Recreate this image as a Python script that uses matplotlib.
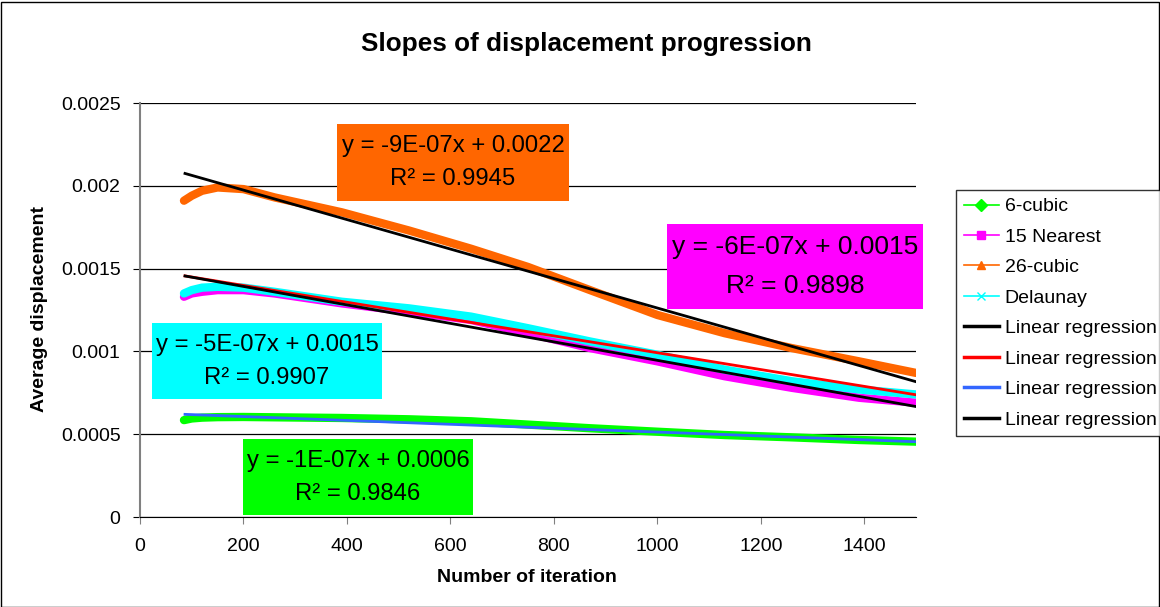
import matplotlib
matplotlib.use("Agg")
import matplotlib.pyplot as plt
from matplotlib.lines import Line2D
from matplotlib.patches import Rectangle
import numpy as np

plt.rcParams['font.family'] = ['Liberation Sans', 'DejaVu Sans']

# values
iterations = [85, 100, 120, 150, 200, 260, 390, 520, 640, 750, 870, 1000, 1130, 1260, 1390, 1500]
cubic6 = [0.000585, 0.000595, 0.0006, 0.000603, 0.000604, 0.000602, 0.000598, 0.00059,
          0.000578, 0.000558, 0.000536, 0.000515, 0.000495, 0.000481, 0.000465, 0.000455]
nearest15 = [0.00133, 0.00135, 0.00136, 0.00137, 0.00137, 0.00135, 0.00129, 0.00124,
             0.00119, 0.00111, 0.00102, 0.00094, 0.00085, 0.00078, 0.00072, 0.00069]
cubic26 = [0.00191, 0.00194, 0.00197, 0.00199, 0.00198, 0.00193, 0.00184, 0.00173,
           0.00162, 0.00151, 0.00137, 0.00122, 0.00111, 0.00102, 0.00094, 0.00087]
delaunay = [0.00135, 0.00137, 0.001385, 0.00139, 0.001385, 0.00136, 0.0013, 0.00126,
            0.00121, 0.00114, 0.00106, 0.00098, 0.00089, 0.00082, 0.00077, 0.00074]

series_names = ["6-cubic", "15 Nearest", "26-cubic", "Delaunay"]
series_colors = ["#00ff00", "#ff00ff", "#ff6600", "#00ffff"]
series_markers = ["D", "s", "^", "x"]

# trendlines (order as in legend): 26-cubic, Delaunay, 6-cubic, 15 Nearest
trend_x = [87, 1500]
trend_slope = [-8.9e-7, -5.08e-7, -1.17e-7, -5.58e-7]
trend_icpt = [0.002152, 0.0015, 0.00063, 0.001504]
trend_colors = ["black", "#ff0000", "#3366ff", "black"]

eq_text = ["y = -9E-07x + 0.0022", "y = -6E-07x + 0.0015", "y = -5E-07x + 0.0015", "y = -1E-07x + 0.0006"]
r2_text = ["R² = 0.9945", "R² = 0.9898", "R² = 0.9907", "R² = 0.9846"]
box_colors = ["#ff6600", "#ff00ff", "#00ffff", "#00ff00"]
# box extents in pixels (left, top, right, bottom) and font size
box_px = [(337, 124, 569, 201), (667, 224, 923, 309), (152, 323, 382, 399), (243, 439, 473, 515)]
box_fs = [17.2, 19, 17.2, 17.2]

xticks = [0, 200, 400, 600, 800, 1000, 1200, 1400]
yticks = [0, 0.0005, 0.001, 0.0015, 0.002, 0.0025]
ytick_labels = ["0", "0.0005", "0.001", "0.0015", "0.002", "0.0025"]

W, H = 1160, 607
fig = plt.figure(figsize=(W / 100, H / 100), dpi=100)
ax = fig.add_axes([140 / W, (H - 517) / H, 776 / W, 414 / H])

for vals, c in zip([cubic6, nearest15, cubic26, delaunay], series_colors):
    ax.plot(iterations, vals, color=c, lw=6, solid_capstyle='round', zorder=3)

tx = np.array(trend_x)
for s, b, c in zip(trend_slope, trend_icpt, trend_colors):
    ax.plot(tx, s * tx + b, color=c, lw=2, zorder=4)

ax.set_xlim(0, 1500)
ax.set_ylim(0, 0.0025)
ax.set_xticks(xticks)
ax.set_yticks(yticks)
ax.set_yticklabels(ytick_labels)
ax.tick_params(labelsize=14, direction='out', length=5)
ax.tick_params(axis='y', pad=9)
ax.tick_params(axis='x', pad=10, color='#808080')
ax.grid(axis='y', color='black', lw=0.9)
ax.set_axisbelow(True)
for sp in ['top', 'right']:
    ax.spines[sp].set_visible(False)
ax.spines['left'].set_color('#808080')
ax.spines['left'].set_linewidth(1.5)
ax.spines['bottom'].set_color('black')

# equation boxes
for (l, t, r, b), fc, eq, r2, fs in zip(box_px, box_colors, eq_text, r2_text, box_fs):
    fig.patches.append(Rectangle((l / W, 1 - b / H), (r - l) / W, (b - t) / H,
                                 transform=fig.transFigure, fc=fc, ec='none', zorder=5))
    cx = (l + r) / 2 / W
    cy = (t + b) / 2
    gap = 16.5 if fs < 18 else 19.5
    fig.text(cx, 1 - (cy - gap) / H, eq, ha='center', va='center', fontsize=fs, zorder=6)
    fig.text(cx, 1 - (cy + gap) / H, r2, ha='center', va='center', fontsize=fs, zorder=6)

fig.text(586 / W, 1 - 44 / H, "Slopes of displacement progression", ha='center', va='center',
         fontsize=18.8, fontweight='bold')
fig.text(527 / W, 1 - 578 / H, "Number of iteration", ha='center', va='center',
         fontsize=14, fontweight='bold')
fig.text(40 / W, 1 - 309 / H, "Average displacement", ha='center', va='center',
         rotation=90, fontsize=14, fontweight='bold')

handles = [Line2D([], [], color=c, marker=m, markersize=6, lw=1.2)
           for c, m in zip(series_colors, series_markers)]
handles += [Line2D([], [], color=c, lw=2.5) for c in trend_colors]
labels = series_names + ["Linear regression"] * 4
leg = fig.legend(handles, labels, loc='upper left', bbox_to_anchor=(956 / W, 1 - 190 / H),
                 fontsize=14, frameon=True, fancybox=False, edgecolor='black',
                 handlelength=1.8, handletextpad=0.3, labelspacing=0.66,
                 borderpad=0.4, borderaxespad=0)
leg.get_frame().set_linewidth(1.0)

fig.patches.append(Rectangle((0.0005, 0.0005), 0.999, 0.997, transform=fig.transFigure,
                             fill=False, ec='black', lw=1))

fig.savefig("out.png", dpi=100)
